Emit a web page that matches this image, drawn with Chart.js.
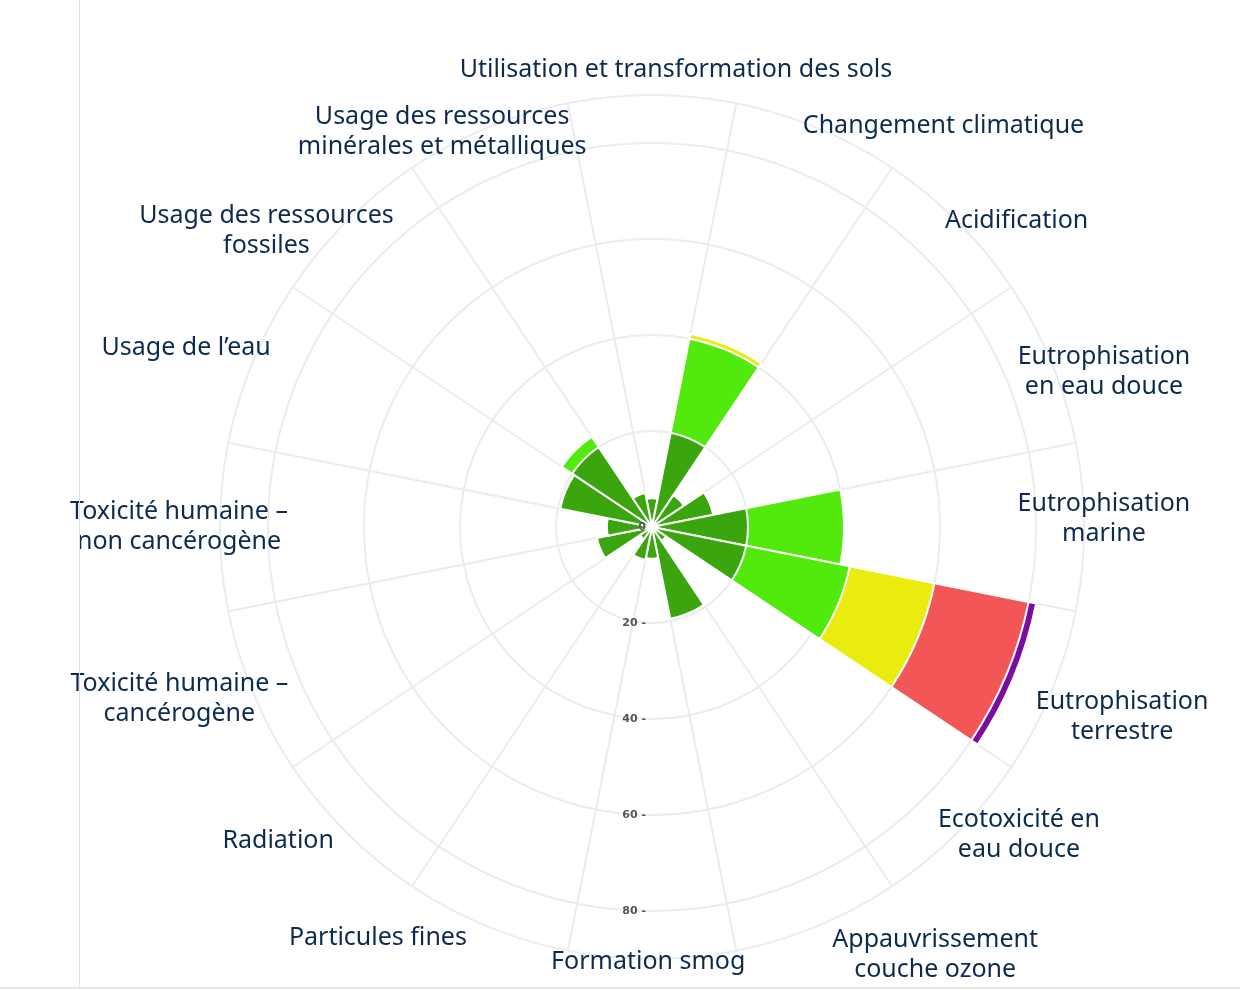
<!DOCTYPE html>
<html>
<head>
<meta charset="utf-8">
<script src="https://cdn.jsdelivr.net/npm/chart.js@4"></script>
<style>
  html, body { margin: 0; padding: 0; background: #fff; }
  #wrap { position: relative; width: 1240px; height: 990px; }
  #vline { position: absolute; left: 79px; top: 0; width: 1px; height: 988px; background: #e2e2e2; }
  #hline { position: absolute; left: 0; top: 987px; width: 1240px; height: 2px; background: #e6e6e6; }
</style>
</head>
<body>
<div id="wrap">
  <canvas id="myChart" width="1240" height="990"></canvas>
  <div id="vline"></div>
  <div id="hline"></div>
</div>
<script>
const categories = [
    ["Utilisation et transformation des sols"],
    ["Changement climatique"],
    ["Acidification"],
    ["Eutrophisation", "en eau douce"],
    ["Eutrophisation", "marine"],
    ["Eutrophisation", "terrestre"],
    ["Ecotoxicité en", "eau douce"],
    ["Appauvrissement", "couche ozone"],
    ["Formation smog"],
    ["Particules fines"],
    ["Radiation"],
    ["Toxicité humaine –", "cancérogène"],
    ["Toxicité humaine –", "non cancérogène"],
    ["Usage de l’eau"],
    ["Usage des ressources", "fossiles"],
    ["Usage des ressources", "minérales et métalliques"]
];

// thickness of each coloured band, per category
const dark_green  = [6, 20, 8, 13, 20, 20, 3.5, 19.5, 6.6, 7, 3, 11.7, 9.4, 19.5, 20, 7.2];
const light_green = [0, 20, 0, 0, 20, 22, 0, 0, 0, 0, 0, 0, 0, 0, 2.6, 0];
const yellow      = [0, 1, 0, 0, 0, 18, 0, 0, 0, 0, 0, 0, 0, 0, 0, 0];
const red         = [0, 0, 0, 0, 0, 20, 0, 0, 0, 0, 0, 0, 0, 0, 0, 0];
const purple      = [0, 0, 0, 0, 0, 1.6, 0, 0, 0, 0, 0, 0, 0, 0, 0, 0];

const tick_labels = [0, 20, 40, 60, 80];

// where the category texts sit: angle (deg, clockwise from top) and distance (px) from centre
const label_layout = [
    [3, 458], [36, 496], [50, 476], [71, 478], [89, 452], [112, 507], [130, 479], [146.5, 513],
    [180.5, 435], [213.7, 494], [230, 488], [250, 503], [270, 473], [291, 499], [307.5, 486], [332, 447]
];

const TEXT_COLOR = "#0d2b4e";
const bands = [
    { data: dark_green,  color: "#3aa50d" },
    { data: light_green, color: "#52ea0c" },
    { data: yellow,      color: "#e9ec0c" },
    { data: red,         color: "#f35656" },
    { data: purple,      color: "#7b0c9c" }
];

// cumulative outer values, band with no thickness collapses to 0
function makeDatasets() {
    let running = categories.map(() => 0);
    let datasets = [];
    bands.forEach(band => {
        running = running.map((v, i) => v + band.data[i]);
        let outer = running.map((v, i) => band.data[i] > 0 ? v : 0);
        datasets.push({
            data: outer,
            backgroundColor: band.color,
            borderColor: "#ffffff",
            borderWidth: 2
        });
    });
    return datasets;
}

const labelPlugin = {
    id: "labelPlugin",
    afterDraw(chart) {
        let ctx = chart.ctx;
        let scale = chart.scales.r;
        let cx = scale.xCenter, cy = scale.yCenter;
        ctx.save();
        // tick labels along the downward axis
        ctx.font = "bold 11px 'DejaVu Sans'";
        ctx.fillStyle = "#555";
        ctx.textAlign = "right";
        ctx.textBaseline = "middle";
        tick_labels.forEach(t => {
            let d = scale.getDistanceFromCenterForValue(t);
            ctx.fillText(t == 0 ? "0" : t + " -", cx - 6, cy + d);
        });
        // category labels
        ctx.font = "25px 'Noto Sans'";
        ctx.fillStyle = TEXT_COLOR;
        ctx.textAlign = "center";
        categories.forEach((lines, i) => {
            let a = label_layout[i][0] * Math.PI / 180;
            let r = label_layout[i][1];
            let x = cx + r * Math.sin(a);
            let y = cy - r * Math.cos(a);
            let top = y - (lines.length - 1) * 15;
            lines.forEach((line, k) => ctx.fillText(line, x, top + k * 30));
        });
        ctx.restore();
    }
};

function makeChart() {
    let ctx = document.getElementById("myChart").getContext("2d");
    return new Chart(ctx, {
        type: "polarArea",
        data: {
            labels: categories.map(c => c.join(" ")),
            datasets: makeDatasets()
        },
        options: {
            responsive: false,
            animation: false,
            layout: { padding: { top: 95, bottom: 31, left: 220, right: 156 } },
            plugins: { legend: { display: false }, tooltip: { enabled: false } },
            scales: {
                r: {
                    min: 0,
                    max: 90,
                    startAngle: -11.25,
                    ticks: { display: false, stepSize: 20 },
                    grid: { color: "#ececec", lineWidth: 2 },
                    angleLines: { display: true, color: "#ececec", lineWidth: 2 },
                    pointLabels: { display: false }
                }
            }
        },
        plugins: [labelPlugin]
    });
}

makeChart();
</script>
</body>
</html>
